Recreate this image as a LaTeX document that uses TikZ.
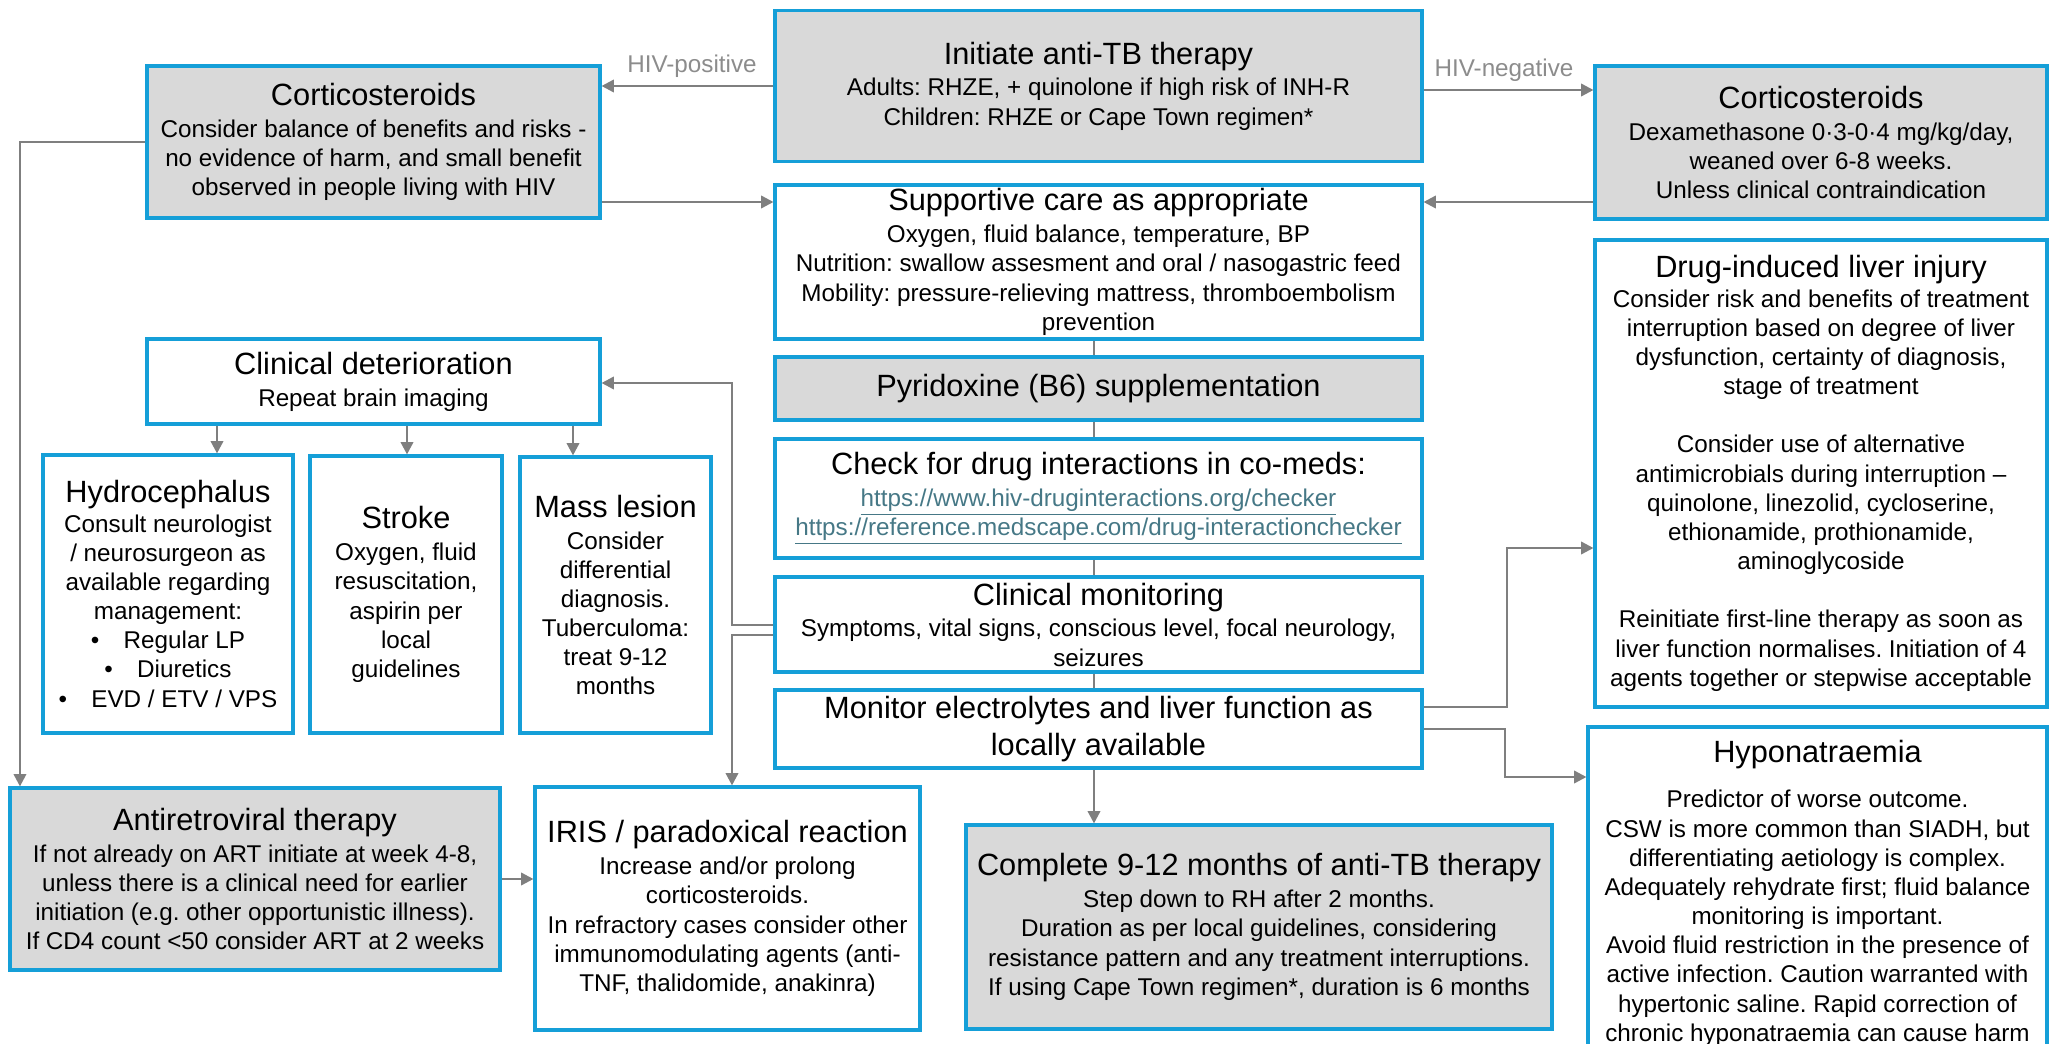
\documentclass[tikz,border=0pt]{standalone}
\usepackage{fontspec}
\setmainfont{Liberation Sans}
\usetikzlibrary{arrows.meta}

\definecolor{tbblue}{HTML}{159FD8}
\definecolor{boxgray}{HTML}{D9D9D9}
\definecolor{arrgray}{HTML}{7F7F7F}
\definecolor{labgray}{HTML}{8C8C8C}
\definecolor{urlcol}{HTML}{467886}

\newcommand{\ttl}[1]{{\fontsize{17.5}{22.5}\selectfont #1}}
\newcommand{\lnk}[1]{\textcolor{urlcol}{\underline{#1}}}

\tikzset{
  box/.style={draw=tbblue, line width=1.8pt, align=center, inner sep=1pt,
    font=\fontsize{13.8}{16.6}\selectfont},
  graybox/.style={box, fill=boxgray},
  arr/.style={draw=arrgray, line width=1.4pt, -{Triangle[length=7pt,width=7pt]}},
  link/.style={draw=arrgray, line width=1.4pt},
  lab/.style={text=labgray, font=\fontsize{13.8}{16.6}\selectfont}
}

\begin{document}
\frenchspacing
\begin{tikzpicture}[x=0.02cm, y=-0.02cm]
 \useasboundingbox (0,0) rectangle (2060,1044);

 % centre column
 \node[graybox, minimum width=12.94cm, minimum height=3.03cm] (init) at (1098.5,86)
  {\ttl{Initiate anti-TB therapy}\\[1.5pt] Adults: RHZE, + quinolone if high risk of INH-R\\ Children: RHZE or Cape Town regimen*};
 \node[box, minimum width=12.94cm, minimum height=3.08cm] (support) at (1098.5,262)
  {\ttl{Supportive care as appropriate}\\[1.5pt] Oxygen, fluid balance, temperature, BP\\ Nutrition: swallow assesment and oral / nasogastric feed\\ Mobility: pressure-relieving mattress, thromboembolism\\ prevention};
 \node[graybox, minimum width=12.94cm, minimum height=1.26cm] (pyr) at (1098.5,388.5)
  {\ttl{Pyridoxine (B6) supplementation}};
 \node[box, minimum width=12.94cm, minimum height=2.38cm] (check) at (1098.5,498.5)
  {\ttl{Check for drug interactions in co-meds:}\\[1.5pt] \lnk{https://www.hiv-druginteractions.org/checker}\\ \lnk{https://reference.medscape.com/drug-interactionchecker}};
 \node[box, minimum width=12.94cm, minimum height=1.9cm] (clinmon) at (1098.5,624.5)
  {\ttl{Clinical monitoring}\\[1.5pt] Symptoms, vital signs, conscious level, focal neurology,\\ seizures};
 \node[box, minimum width=12.94cm, minimum height=1.56cm] (monitor) at (1098.5,729)
  {\ttl{Monitor electrolytes and liver function as}\\[4pt] \ttl{locally available}};
 \node[graybox, minimum width=11.72cm, minimum height=4.08cm] (complete) at (1259,927)
  {\ttl{Complete 9-12 months of anti-TB therapy}\\[1.5pt] Step down to RH after 2 months.\\ Duration as per local guidelines, considering\\ resistance pattern and any treatment interruptions.\\ If using Cape Town regimen*, duration is 6 months};

 % left side
 \node[graybox, minimum width=9.06cm, minimum height=3.04cm] (lcort) at (373.5,142)
  {\ttl{Corticosteroids}\\[1.5pt] Consider balance of benefits and risks -\\ no evidence of harm, and small benefit\\ observed in people living with HIV};
 \node[box, minimum width=9.06cm, minimum height=1.7cm] (clindet) at (373.5,381.5)
  {\ttl{Clinical deterioration}\\[1.5pt] Repeat brain imaging};
 \node[box, minimum width=5cm, minimum height=5.56cm] (hydro) at (168,594)
  {\ttl{Hydrocephalus}\\ Consult neurologist\\ / neurosurgeon as\\ available regarding\\ management:\\ •\quad Regular LP\\ •\quad Diuretics\\ •\quad EVD / ETV / VPS};
 \node[box, minimum width=3.84cm, minimum height=5.54cm] (stroke) at (406,594.5)
  {\ttl{Stroke}\\[1.5pt] Oxygen, fluid\\ resuscitation,\\ aspirin per\\ local\\ guidelines};
 \node[box, minimum width=3.82cm, minimum height=5.52cm] (mass) at (615.5,595)
  {\ttl{Mass lesion}\\[1.5pt] Consider\\ differential\\ diagnosis.\\ Tuberculoma:\\ treat 9-12\\ months};
 \node[graybox, minimum width=9.8cm, minimum height=3.64cm] (art) at (255,879)
  {\ttl{Antiretroviral therapy}\\[1.5pt] If not already on ART initiate at week 4-8,\\ unless there is a clinical need for earlier\\ initiation (e.g. other opportunistic illness).\\ If CD4 count <50 consider ART at 2 weeks};
 \node[box, minimum width=7.7cm, minimum height=4.86cm] (iris) at (727.5,908.5)
  {\ttl{IRIS / paradoxical reaction}\\[1.5pt] Increase and/or prolong\\ corticosteroids.\\ In refractory cases consider other\\ immunomodulating agents (anti-\\ TNF, thalidomide, anakinra)};

 % right side
 \node[graybox, minimum width=9.04cm, minimum height=3.06cm] (rcort) at (1821,142.5)
  {\ttl{Corticosteroids}\\[1.5pt] Dexamethasone 0·3-0·4 mg/kg/day,\\ weaned over 6-8 weeks.\\ Unless clinical contraindication};
 \node[box, minimum width=9.04cm, minimum height=9.34cm] (dili) at (1821,473.5)
  {\ttl{Drug-induced liver injury}\\ Consider risk and benefits of treatment\\ interruption based on degree of liver\\ dysfunction, certainty of diagnosis,\\ stage of treatment\\[16.6pt]
   Consider use of alternative\\ antimicrobials during interruption –\\ quinolone, linezolid, cycloserine,\\ ethionamide, prothionamide,\\ aminoglycoside\\[16.6pt]
   Reinitiate first-line therapy as soon as\\ liver function normalises. Initiation of 4\\ agents together or stepwise acceptable};
 \node[box, minimum width=9.18cm, minimum height=6.66cm] (hypo) at (1817.5,893.5)
  {\ttl{Hyponatraemia}\\[9pt] Predictor of worse outcome.\\ CSW is more common than SIADH, but\\ differentiating aetiology is complex.\\ Adequately rehydrate first; fluid balance\\ monitoring is important.\\ Avoid fluid restriction in the presence of\\ active infection. Caution warranted with\\ hypertonic saline. Rapid correction of\\ chronic hyponatraemia can cause harm};

 % HIV branches
 \draw[arr] (init.west) -- (init.west -| lcort.east);
 \node[lab] (hivpos) at (692,66) {HIV-positive};
 \draw[arr] (init.east |- 0,90) -- (rcort.west |- 0,90);
 \node[lab] (hivneg) at (1504,70) {HIV-negative};
 \draw[arr] (lcort.east |- 0,202) -- (support.west |- 0,202);
 \draw[arr] (rcort.west |- 0,202) -- (support.east |- 0,202);
 \draw[arr] (lcort.west |- 0,142) -| ([xshift=0.23cm]art.north west);

 % centre links
 \draw[link] (support.south -| 1094,0) -- (pyr.north -| 1094,0);
 \draw[link] (pyr.south -| 1094,0) -- (check.north -| 1094,0);
 \draw[link] (check.south -| 1094,0) -- (clinmon.north -| 1094,0);
 \draw[link] (clinmon.south -| 1094,0) -- (monitor.north -| 1094,0);
 \draw[arr] (monitor.south -| 1094,0) -- (complete.north -| 1094,0);

 % deterioration branch
 \draw[arr] (clindet.south -| 217,0) -- (hydro.north -| 217,0);
 \draw[arr] (clindet.south -| 407,0) -- (stroke.north -| 407,0);
 \draw[arr] (clindet.south -| 573,0) -- (mass.north -| 573,0);
 \draw[arr] (clinmon.west |- 0,625) -| (732,383) -- (clindet.east |- 0,383);
 \draw[arr] (clinmon.west |- 0,635) -| (iris.north -| 732,0);
 \draw[arr] (art.east) -- (iris.west |- art.east);

 % monitoring branch
 \draw[arr] (monitor.east |- 0,707) -| (1507,548) -- (dili.west |- 0,548);
 \draw[arr] (monitor.east |- 0,729) -| (1505,777) -- (hypo.west |- 0,777);
\end{tikzpicture}
\end{document}
